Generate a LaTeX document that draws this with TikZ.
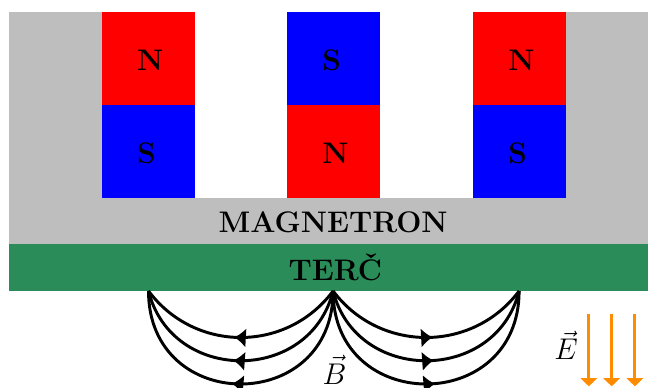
\documentclass[tikz,border=0pt]{standalone}
\usepackage{amsmath}
\usepackage{xcolor}
\usetikzlibrary{arrows.meta, decorations.markings}

\definecolor{bodygray}{HTML}{BEBEBE}
\definecolor{targetgreen}{HTML}{2A8C58}
\definecolor{fieldorange}{HTML}{FF8C00}

\tikzset{
    polelabel/.style={anchor=west, inner sep=0pt, font=\fontsize{18.2}{22}\selectfont\bfseries},
    partlabel/.style={inner sep=0pt, font=\fontsize{18.2}{22}\selectfont\bfseries},
    fieldlabel/.style={inner sep=0pt, scale=1.06, font=\fontsize{18.2}{22}\selectfont},
    bline/.style={line width=1.8pt, postaction={decorate}, decoration={markings,
        mark=at position 0.53 with {\arrow{Latex[length=7pt,width=12pt]}}}},
    eline/.style={fieldorange, line width=1.8pt, -{Triangle[length=5pt,width=10pt]}}
}

\begin{document}
\begin{tikzpicture}

    \useasboundingbox (-0.1935,-2.065) rectangle (13.742,6.258);

    % 1. Magnetron body with the gaps between the magnets
    \fill[bodygray] (0,1) rectangle (13.742,6);
    \fill[white] (4,2) rectangle (5.98,6);
    \fill[white] (7.98,2) rectangle (9.98,6);

    % 2. Target
    \fill[targetgreen] (0,0) rectangle (13.742,1.01);

    % 3. Magnets: name, x position, colours and labels of the two poles
    \foreach \mg/\px/\upcol/\uplab/\lowcol/\lowlab in {
        a/2/red/N/blue/S, b/5.98/blue/S/red/N, c/9.98/red/N/blue/S%
    } {
        \fill[\upcol] (\px,4) rectangle ++(2,2);
        \fill[\lowcol] (\px,2) rectangle ++(2,2);
        \node[polelabel] (up\mg) at (\px+0.75,4.96) {\uplab};
        \node[polelabel] (low\mg) at (\px+0.75,2.97) {\lowlab};
    }

    % 4. Names of the parts
    \node[partlabel] (magnetron) at (6.97,1.48) {MAGNETRON};
    \node[partlabel] (terc) at (7.02,0.5) {TERČ};

    % 5. Magnetic field lines leaving the middle point
    \coordinate (M) at (6.97,0);
    \coordinate (L) at (3,0);
    \coordinate (R) at (10.97,0);
    \foreach \dx/\dy in {1/-1.333, 0.5/-2, 0/-2.667} {
        \draw[bline] (M) .. controls (6.97-\dx,\dy) and (3+\dx,\dy) .. (L);
        \draw[bline] (M) .. controls (6.97+\dx,\dy) and (10.97-\dx,\dy) .. (R);
    }
    \node[fieldlabel] (Blabel) at (7,-1.7) {$\vec{B}$};

    % 6. Electric field arrows
    \foreach \en/\ex in {a/12.47, b/12.96, c/13.46} {
        \coordinate (Etop\en) at (\ex,-0.5);
        \coordinate (Ebot\en) at (\ex,-2.05);
        \draw[eline] (Etop\en) -- (Ebot\en);
    }
    \node[fieldlabel] (Elabel) at (11.98,-1.17) {$\vec{E}$};

\end{tikzpicture}
\end{document}
